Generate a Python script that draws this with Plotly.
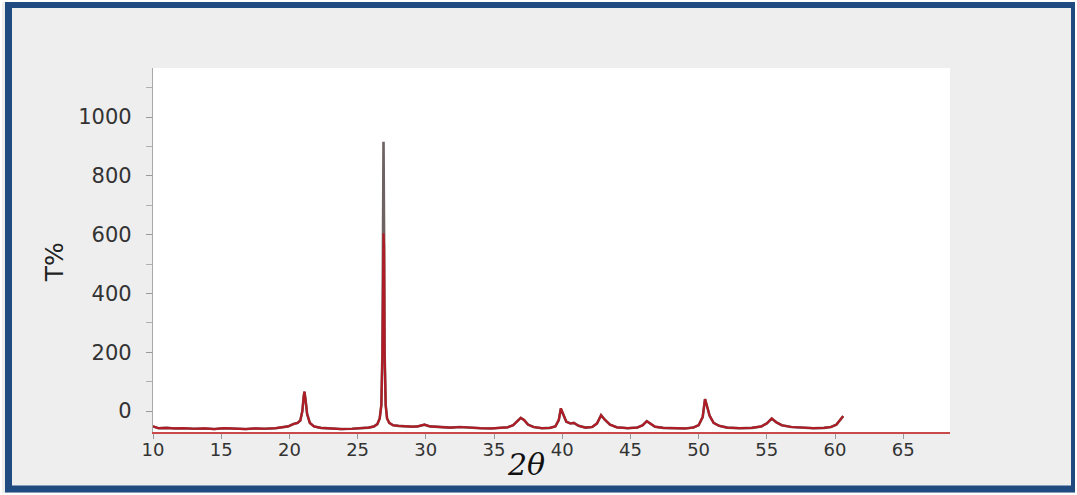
import plotly.graph_objects as go

# 2-theta positions (degrees)
two_theta = [10.0, 10.4, 11.0, 11.6, 12.2, 13.0, 13.8, 14.5, 15.2, 16.0, 16.8, 17.5, 18.2, 19.0,
             19.5, 19.9, 20.3, 20.6, 20.8, 20.95, 21.05, 21.1, 21.18, 21.3, 21.5, 21.8, 22.3,
             23.0, 23.8, 24.6, 25.3, 25.8, 26.2, 26.45, 26.62, 26.74, 26.82, 26.86, 26.9, 26.94,
             26.98, 27.06, 27.16, 27.32, 27.6, 28.0, 28.5, 29.0, 29.4, 29.7, 29.9, 30.3, 31.0,
             31.8, 32.5, 33.2, 34.0, 34.8, 35.5, 36.0, 36.4, 36.7, 36.96, 37.2, 37.5, 37.9,
             38.5, 39.1, 39.5, 39.75, 39.9, 40.05, 40.3, 40.6, 40.85, 41.2, 41.7, 42.2, 42.55,
             42.85, 43.1, 43.5, 44.0, 44.8, 45.5, 45.9, 46.2, 46.45, 46.8, 47.4, 48.2, 49.0,
             49.6, 50.0, 50.3, 50.47, 50.6, 50.8, 51.1, 51.5, 52.1, 53.0, 53.9, 54.6, 55.0,
             55.36, 55.7, 56.1, 56.8, 57.6, 58.4, 59.2, 59.7, 60.1, 60.35, 60.5, 60.6]

# observed pattern (grey trace, full height of main reflection)
intensity_obs = [-52, -58, -57, -59, -58, -60, -59, -61, -58, -60, -61, -59, -60, -58,
                 -56, -52, -44, -40, -32, 0, 50, 66, 40, -10, -40, -52, -57,
                 -59, -61, -60, -58, -56, -52, -44, -25, 20, 200, 600, 916, 600,
                 200, 20, -25, -40, -48, -50, -52, -53, -52, -48, -46, -52, -55,
                 -56, -54, -57, -58, -59, -58, -55, -48, -36, -23, -30, -46, -54,
                 -58, -57, -52, -30, 9, -8, -36, -42, -40, -50, -56, -54, -42,
                 -14, -28, -46, -55, -58, -56, -48, -34, -42, -53, -57, -58, -59,
                 -56, -48, -20, 41, 20, -15, -40, -50, -56, -58, -57, -52, -42,
                 -25, -38, -48, -54, -57, -58, -57, -54, -46, -32, -20, -17]

# red overlay (same pattern, main reflection reaching ~605)
intensity_red = [-52, -58, -57, -59, -58, -60, -59, -61, -58, -60, -61, -59, -60, -58,
                 -56, -52, -44, -40, -32, 0, 50, 66, 40, -10, -40, -52, -57,
                 -59, -61, -60, -58, -56, -52, -44, -25, 20, 200, 560, 605, 560,
                 200, 20, -25, -40, -48, -50, -52, -53, -52, -48, -46, -52, -55,
                 -56, -54, -57, -58, -59, -58, -55, -48, -36, -23, -30, -46, -54,
                 -58, -57, -52, -30, 9, -8, -36, -42, -40, -50, -56, -54, -42,
                 -14, -28, -46, -55, -58, -56, -48, -34, -42, -53, -57, -58, -59,
                 -56, -48, -20, 41, 20, -15, -40, -50, -56, -58, -57, -52, -42,
                 -25, -38, -48, -54, -57, -58, -57, -54, -46, -32, -20, -17]

x_ticks = [10, 15, 20, 25, 30, 35, 40, 45, 50, 55, 60, 65]
y_ticks = [0, 200, 400, 600, 800, 1000]

fig = go.Figure()
fig.add_trace(go.Scatter(x=two_theta, y=intensity_obs, mode="lines",
                         line=dict(color="#6e6262", width=2.6), hoverinfo="skip",
                         showlegend=False))
fig.add_trace(go.Scatter(x=two_theta, y=intensity_red, mode="lines",
                         line=dict(color="#b01c26", width=2.2), hoverinfo="skip",
                         showlegend=False))

tick_font = dict(family="DejaVu Sans", color="#333333")

fig.update_layout(
    width=1077, height=495,
    margin=dict(l=153, r=127, t=68, b=63),
    paper_bgcolor="#eeeeee",
    plot_bgcolor="#ffffff",
    showlegend=False,
    xaxis=dict(range=[10, 68.43], tickvals=x_ticks, ticktext=[str(v) for v in x_ticks],
               showgrid=False, zeroline=False, showline=True, linecolor="#c84a4a",
               linewidth=1.5, ticks="outside", ticklen=5, tickcolor="#9a9a9a",
               ticklabelstandoff=-4,
               tickfont=dict(size=18, **tick_font)),
    yaxis=dict(range=[-71, 1167], tickvals=y_ticks, ticktext=[str(v) for v in y_ticks],
               showgrid=False, zeroline=False, showline=True, linecolor="#a8a8a8",
               linewidth=1.2, ticks="outside", ticklen=6, tickcolor="#9a9a9a",
               ticklabelstandoff=10,
               minor=dict(dtick=100, tick0=0, ticks="outside", ticklen=6, tickcolor="#b0b0b0"),
               tickfont=dict(size=21, **tick_font)),
    annotations=[
        dict(text="<i>2θ</i>", xref="paper", yref="paper", x=0.468, y=-0.09,
             showarrow=False, xanchor="center", yanchor="middle",
             font=dict(family="DejaVu Serif", size=30, color="#111111")),
        dict(text="T%", xref="paper", yref="paper", x=-0.124, y=0.467, textangle=-90,
             showarrow=False, xanchor="center", yanchor="middle",
             font=dict(family="DejaVu Sans", size=25, color="#222222")),
    ],
    shapes=[
        dict(type="rect", xref="paper", yref="paper", xsizemode="pixel", ysizemode="pixel",
             xanchor=0, yanchor=0, x0=-144.5, x1=921.5, y0=-57, y1=427.5,
             line=dict(color="#1f4b80", width=7), fillcolor="rgba(0,0,0,0)", layer="above"),
        dict(type="rect", xref="paper", yref="paper", xsizemode="pixel", ysizemode="pixel",
             xanchor=0, yanchor=0, x0=-153, x1=924, y0=-63, y1=432,
             line=dict(color="#ffffff", width=4), fillcolor="rgba(0,0,0,0)", layer="above"),
    ],
)

fig.write_html("out.html", config={"displayModeBar": False},
               post_script="document.body.style.margin='0px';document.body.style.overflow='hidden';")
